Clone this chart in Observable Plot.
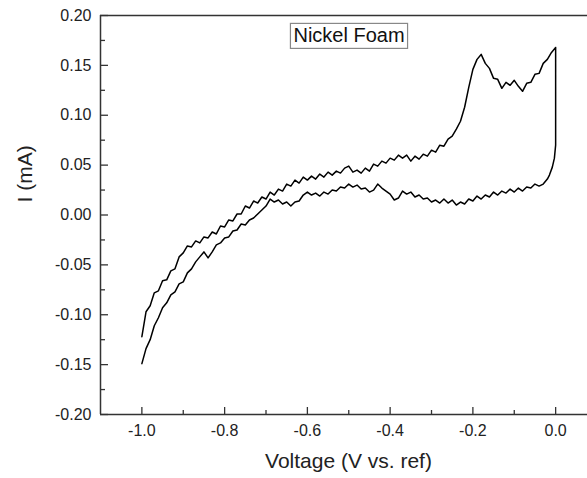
<!DOCTYPE html>
<html>
<head>
<meta charset="utf-8">
<script src="https://cdn.jsdelivr.net/npm/d3@7"></script>
<script src="https://cdn.jsdelivr.net/npm/@observablehq/plot@0.6"></script>
<style>
  html, body { margin: 0; padding: 0; background: #fff; }
  #chart { width: 587px; height: 478px; }
</style>
</head>
<body>
<div id="chart"></div>
<script>
// ---- data ----
const title = "Nickel Foam";
const xLabel = "Voltage (V vs. ref)";
const yLabel = "I (mA)";

const xDomain = [-1.1, 0.077];
const yDomain = [-0.2, 0.2];
const xTicks = [-1.0, -0.8, -0.6, -0.4, -0.2, 0.0];
const xMinorTicks = [-0.9, -0.7, -0.5, -0.3, -0.1];
const yTicks = [-0.20, -0.15, -0.10, -0.05, 0.00, 0.05, 0.10, 0.15, 0.20];
const yMinorTicks = [-0.175, -0.125, -0.075, -0.025, 0.025, 0.075, 0.125, 0.175];

// forward (anodic) scan
const upperV = [
  -1.00,-0.99,-0.98,-0.97,-0.96,-0.95,-0.94,-0.93,-0.92,-0.91,
  -0.90,-0.89,-0.88,-0.87,-0.86,-0.85,-0.84,-0.83,-0.82,-0.81,
  -0.80,-0.79,-0.78,-0.77,-0.76,-0.75,-0.74,-0.73,-0.72,-0.71,
  -0.70,-0.69,-0.68,-0.67,-0.66,-0.65,-0.64,-0.63,-0.62,-0.61,
  -0.60,-0.59,-0.58,-0.57,-0.56,-0.55,-0.54,-0.53,-0.52,-0.51,
  -0.50,-0.49,-0.48,-0.47,-0.46,-0.45,-0.44,-0.43,-0.42,-0.41,
  -0.40,-0.39,-0.38,-0.37,-0.36,-0.35,-0.34,-0.33,-0.32,-0.31,
  -0.30,-0.29,-0.28,-0.27,-0.26,-0.25,-0.24,-0.23,-0.22,-0.21,
  -0.20,-0.19,-0.18,-0.17,-0.16,-0.15,-0.14,-0.13,-0.12,-0.11,
  -0.10,-0.09,-0.08,-0.07,-0.06,-0.05,-0.04,-0.03,-0.02,-0.01,
  0.00
];
const upperI = [
  -0.122,-0.097,-0.091,-0.078,-0.076,-0.066,-0.065,-0.056,-0.054,-0.042,
  -0.038,-0.031,-0.032,-0.026,-0.028,-0.022,-0.023,-0.017,-0.019,-0.011,
  -0.012,-0.005,-0.006,0.001,0.001,0.009,0.007,0.014,0.012,0.018,
  0.016,0.023,0.020,0.026,0.024,0.031,0.029,0.035,0.032,0.038,
  0.035,0.039,0.036,0.041,0.038,0.043,0.040,0.044,0.042,0.047,
  0.049,0.043,0.045,0.042,0.047,0.044,0.051,0.049,0.054,0.052,
  0.057,0.055,0.060,0.057,0.060,0.054,0.059,0.056,0.061,0.059,
  0.065,0.063,0.070,0.069,0.076,0.079,0.086,0.094,0.108,0.128,
  0.146,0.156,0.161,0.152,0.147,0.137,0.136,0.127,0.133,0.130,
  0.135,0.129,0.124,0.132,0.133,0.141,0.142,0.152,0.156,0.163,
  0.168
];

// reverse (cathodic) scan
const lowerV = [
  0.000,-0.003,-0.008,-0.015,-0.020,-0.030,
  -0.04,-0.05,-0.06,-0.07,-0.08,-0.09,-0.10,-0.11,-0.12,-0.13,
  -0.14,-0.15,-0.16,-0.17,-0.18,-0.19,-0.20,-0.21,-0.22,-0.23,
  -0.24,-0.25,-0.26,-0.27,-0.28,-0.29,-0.30,-0.31,-0.32,-0.33,
  -0.34,-0.35,-0.36,-0.37,-0.38,-0.39,-0.40,-0.41,-0.42,-0.43,
  -0.44,-0.45,-0.46,-0.47,-0.48,-0.49,-0.50,-0.51,-0.52,-0.53,
  -0.54,-0.55,-0.56,-0.57,-0.58,-0.59,-0.60,-0.61,-0.62,-0.63,
  -0.64,-0.65,-0.66,-0.67,-0.68,-0.69,-0.70,-0.71,-0.72,-0.73,
  -0.74,-0.75,-0.76,-0.77,-0.78,-0.79,-0.80,-0.81,-0.82,-0.83,
  -0.84,-0.85,-0.86,-0.87,-0.88,-0.89,-0.90,-0.91,-0.92,-0.93,
  -0.94,-0.95,-0.96,-0.97,-0.98,-0.99,
  -1.00
];
const lowerI = [
  0.070,0.057,0.048,0.040,0.036,0.031,
  0.029,0.031,0.027,0.028,0.024,0.027,0.023,0.026,0.022,0.024,
  0.020,0.023,0.018,0.020,0.016,0.019,0.014,0.016,0.011,0.013,
  0.010,0.015,0.012,0.016,0.012,0.015,0.013,0.017,0.016,0.020,
  0.018,0.023,0.021,0.024,0.017,0.015,0.021,0.024,0.027,0.031,
  0.025,0.023,0.027,0.026,0.030,0.028,0.031,0.027,0.028,0.024,
  0.025,0.021,0.023,0.019,0.022,0.020,0.023,0.020,0.014,0.013,
  0.009,0.013,0.011,0.015,0.013,0.016,0.009,0.005,0.001,-0.003,
  -0.005,-0.010,-0.009,-0.015,-0.016,-0.022,-0.023,-0.028,-0.030,-0.037,
  -0.043,-0.037,-0.042,-0.047,-0.054,-0.058,-0.067,-0.069,-0.077,-0.080,
  -0.088,-0.093,-0.103,-0.111,-0.125,-0.134,
  -0.149
];

// ---- build table ----
const cv = [];
upperV.forEach((v, i) => cv.push({v, i: upperI[i]}));
lowerV.forEach((v, i) => cv.push({v, i: lowerI[i]}));

const axisColor = "#333";
const font = "'Liberation Sans', Arial, Helvetica, sans-serif";

const chart = Plot.plot({
  width: 587,
  height: 478,
  marginLeft: 100,
  marginRight: 0,
  marginTop: 15,
  marginBottom: 64,
  style: {fontFamily: font, fontSize: "16px", color: "#222", background: "#fff", overflow: "visible"},
  x: {domain: xDomain},
  y: {domain: yDomain},
  marks: [
    // frame lines
    Plot.ruleY([yDomain[1]], {stroke: axisColor, strokeWidth: 1.5}),
    Plot.ruleY([yDomain[0]], {stroke: axisColor, strokeWidth: 1.5}),
    Plot.ruleX([xDomain[0]], {stroke: axisColor, strokeWidth: 1.5}),
    // y axis ticks (inward) and labels
    Plot.axisY({ticks: yTicks, tickSize: -8, tickFormat: () => "", stroke: axisColor, strokeWidth: 1.3, label: null}),
    Plot.axisY({ticks: yMinorTicks, tickSize: -5, tickFormat: () => "", stroke: axisColor, strokeWidth: 1.3, label: null}),
    Plot.axisY({ticks: yTicks, tickSize: 0, tickPadding: 9, tickFormat: d => d.toFixed(2), fill: "#222", fontSize: 16, label: null}),
    // x axis ticks (inward) and labels
    Plot.axisX({ticks: xTicks, tickSize: -7, tickFormat: () => "", stroke: axisColor, strokeWidth: 1.3, label: null}),
    Plot.axisX({ticks: xMinorTicks, tickSize: -4, tickFormat: () => "", stroke: axisColor, strokeWidth: 1.3, label: null}),
    Plot.axisX({ticks: xTicks, tickSize: 0, tickPadding: 10, tickFormat: d => d.toFixed(1), fill: "#222", fontSize: 16, label: null}),
    // axis titles
    Plot.text([xLabel], {frameAnchor: "bottom", dx: 4.5, dy: 53, lineAnchor: "bottom", fontSize: 21, fill: "#222"}),
    Plot.text([yLabel], {frameAnchor: "left", dx: -75, dy: -12.5, rotate: -90, lineAnchor: "middle", fontSize: 21, fill: "#222"}),
    // legend title
    Plot.text([title], {frameAnchor: "top", dx: 5, dy: 20.5, lineAnchor: "middle", fontSize: 20, fill: "#111", className: "legend-title"}),
    // data
    Plot.line(cv, {x: "v", y: "i", stroke: "#000", strokeWidth: 1.5, strokeLinejoin: "round"})
  ]
});

document.getElementById("chart").appendChild(chart);

// box around legend text, sized from the rendered text
const lt = chart.querySelector(".legend-title text") || chart.querySelector("g.legend-title text");
if (lt) {
  const bb = lt.getBBox();
  const ctm = lt.getCTM();
  const svgCtm = chart.getCTM ? chart.getCTM() : null;
  const pt = chart.createSVGPoint();
  pt.x = bb.x; pt.y = bb.y;
  const p1 = pt.matrixTransform(svgCtm ? svgCtm.inverse().multiply(ctm) : ctm);
  const pad = 3;
  d3.select(chart).append("rect")
    .attr("x", p1.x - pad)
    .attr("y", p1.y - 1)
    .attr("width", bb.width + 2 * pad)
    .attr("height", bb.height + 3)
    .attr("fill", "none")
    .attr("stroke", "#888")
    .attr("stroke-width", 1.2);
}
</script>
</body>
</html>
